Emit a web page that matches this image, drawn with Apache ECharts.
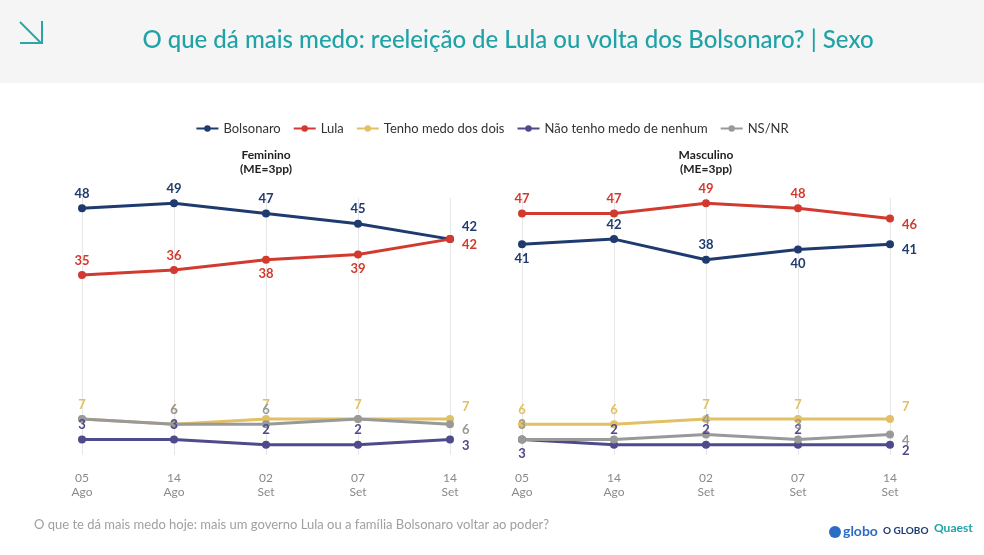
<!DOCTYPE html><html><head><meta charset="utf-8"><script src="https://cdn.jsdelivr.net/npm/echarts@6/dist/echarts.min.js"></script>
<style>body{margin:0;background:#fff}#c{width:984px;height:555px}</style></head><body><div id="c"></div><script>
const categories=['05\nAgo','14\nAgo','02\nSet','07\nSet','14\nSet'];
const seriesNames=['Bolsonaro','Lula','Tenho medo dos dois','Não tenho medo de nenhum','NS/NR'];
const colors=['#1e3a6e','#d23a2f','#e2c064','#4e4a8c','#999999'];
const femBolsonaro=[48,49,47,45,42];
const femLula=[35,36,38,39,42];
const femDois=[7,6,7,7,7];
const femNenhum=[3,3,2,2,3];
const femNsnr=[7,6,6,7,6];
const mascBolsonaro=[41,42,38,40,41];
const mascLula=[47,47,49,48,46];
const mascDois=[6,6,7,7,7];
const mascNenhum=[3,2,2,2,2];
const mascNsnr=[3,3,4,3,4];
// label placements: t=top b=bottom R=right-up r=right-down n=none
const femPos=[['t','t','t','t','R'],['t','t','b','b','r'],['t','t','t','t','R'],['t','t','t','t','r'],['n','t','t','n','r']];
const mascPos=[['b','t','t','b','r'],['t','t','t','t','r'],['t','t','t','t','R'],['b','t','t','t','r'],['t','n','t','t','r']];
const chart=echarts.init(document.getElementById('c'));
function mk(vals,pos,i,idx){
  return {name:seriesNames[i],type:'line',xAxisIndex:idx,yAxisIndex:idx,symbol:'circle',symbolSize:8,
    lineStyle:{width:3,color:colors[i]},itemStyle:{color:colors[i]},z:i===1?4:3,
    data:vals.map((v,j)=>{const p=pos[j];let lab={show:p!=='n',position:'top',distance:4};
      if(p==='b')lab.position='bottom';
      if(p==='R'){lab.position='right';lab.offset=[4,-12];}
      if(p==='r'){lab.position='right';lab.offset=[4,6];}
      return {value:v,label:lab};}),
    label:{color:colors[i],fontWeight:'bold',fontSize:13,fontFamily:'Lato'}};
}
const fem=[femBolsonaro,femLula,femDois,femNenhum,femNsnr];
const masc=[mascBolsonaro,mascLula,mascDois,mascNenhum,mascNsnr];
const series=[];
fem.forEach((v,i)=>series.push(mk(v,femPos[i],i,0)));
masc.forEach((v,i)=>series.push(mk(v,mascPos[i],i,1)));
const xa=g=>({type:'category',gridIndex:g,data:categories,boundaryGap:false,axisLine:{show:false},axisTick:{show:false},
  axisLabel:{color:'#8a8a8a',fontSize:12,fontFamily:'Lato',lineHeight:14,margin:16},splitLine:{show:true,lineStyle:{color:'#e6e6e6'}}});
const ya=g=>({type:'value',gridIndex:g,min:0,max:50,show:false,splitLine:{show:false}});
chart.setOption({
  animation:false,
  graphic:[
    {type:'rect',shape:{x:0,y:0,width:984,height:83},style:{fill:'#f5f5f5'}},
    {type:'polyline',shape:{points:[[20,22],[41,43]]},style:{stroke:'#2aa6a8',lineWidth:2}},
    {type:'polyline',shape:{points:[[20,43],[42,43],[42,21]]},style:{stroke:'#2aa6a8',lineWidth:2}},
    {type:'text',x:508,y:28,style:{text:'O que dá mais medo: reeleição de Lula ou volta dos Bolsonaro? | Sexo',fill:'#1fa3a6',fontSize:24,fontFamily:'Lato',fontWeight:500,align:'center'}},
    {type:'text',x:266,y:148,style:{text:'Feminino\n(ME=3pp)',fill:'#222',fontSize:12,fontWeight:'bold',fontFamily:'Lato',align:'center',lineHeight:14}},
    {type:'text',x:706,y:148,style:{text:'Masculino\n(ME=3pp)',fill:'#222',fontSize:12,fontWeight:'bold',fontFamily:'Lato',align:'center',lineHeight:14}},
    {type:'text',x:34,y:518,style:{text:'O que te dá mais medo hoje: mais um governo Lula ou a família Bolsonaro voltar ao poder?',fill:'#a0a0a0',fontSize:13,fontFamily:'Lato'}},
    {type:'circle',shape:{cx:835,cy:532,r:6},style:{fill:'#2b6cc4'}},
    {type:'text',x:843,y:524,style:{text:'globo',fill:'#2b6cc4',fontSize:14,fontWeight:'bold',fontFamily:'Lato'}},
    {type:'text',x:883,y:526,style:{text:'O GLOBO',fill:'#1e3a6e',fontSize:10,fontWeight:'bold',fontFamily:'Lato'}},
    {type:'text',x:934,y:522,style:{text:'Quaest',fill:'#1fa3a6',fontSize:12,fontWeight:'bold',fontFamily:'Lato'}}
  ],
  legend:{top:117,left:'center',itemWidth:22,itemHeight:8,itemGap:12,data:seriesNames,textStyle:{color:'#333',fontSize:13,fontFamily:'Lato'}},
  grid:[{left:82,width:368,top:198,height:257},{left:522,width:368,top:198,height:257}],
  xAxis:[xa(0),xa(1)],yAxis:[ya(0),ya(1)],
  series
});
</script></body></html>
